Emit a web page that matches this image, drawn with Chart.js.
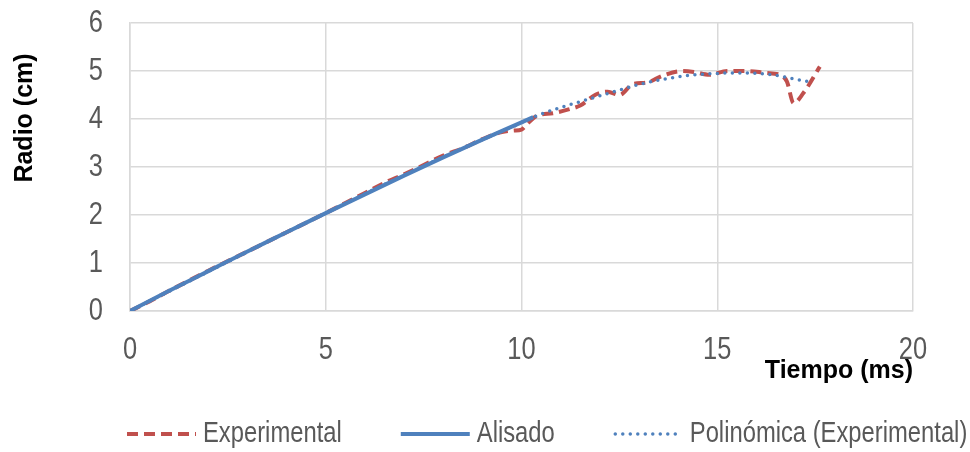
<!DOCTYPE html>
<html>
<head>
<meta charset="utf-8">
<script src="https://cdn.jsdelivr.net/npm/chart.js@4.4.1/dist/chart.umd.min.js"></script>
<style>
  html, body { margin: 0; padding: 0; background: #ffffff; }
  #wrap { width: 970px; height: 452px; position: relative; }
</style>
</head>
<body>
<div id="wrap"><canvas id="chart" width="970" height="452"></canvas></div>
<script>
// Measured radius over time (ms, cm)
const expTime   = [0, 0.5, 1, 1.5, 2, 2.5, 3, 3.5, 4, 4.5, 5, 5.5, 6, 6.5, 7, 7.5, 8, 8.5, 9, 9.5, 9.8, 10.0, 10.15, 10.4, 10.8, 11.2, 11.5, 11.9, 12.2, 12.5, 12.85, 13.2, 13.6, 14.1, 14.4, 14.8, 15.25, 15.75, 16.25, 16.6, 16.78, 16.95, 17.2, 17.62];
const expRadius = [0, 0.2, 0.42, 0.63, 0.84, 1.04, 1.24, 1.44, 1.64, 1.84, 2.04, 2.25, 2.46, 2.67, 2.85, 3.04, 3.24, 3.39, 3.58, 3.73, 3.76, 3.78, 3.9, 4.07, 4.12, 4.2, 4.28, 4.51, 4.57, 4.5, 4.73, 4.76, 4.9, 5.0, 4.98, 4.92, 5.0, 5.0, 4.96, 4.92, 4.78, 4.33, 4.54, 5.09];

// Smoothed radius
const smoothTime   = [0, 1, 2, 3, 4, 5, 6, 7, 8, 9, 10, 10.3];
const smoothRadius = [0, 0.42, 0.83, 1.24, 1.64, 2.04, 2.43, 2.82, 3.2, 3.57, 3.93, 4.04];

// Polynomial trend of the measured data
const polyTime   = [0, 1, 2, 3, 4, 5, 6, 7, 8, 9, 10, 10.4, 11, 11.7, 12.4, 13, 13.7, 14.3, 15, 15.5, 16, 16.5, 17, 17.45];
const polyRadius = [0, 0.41, 0.82, 1.23, 1.64, 2.04, 2.44, 2.83, 3.21, 3.57, 3.92, 4.07, 4.24, 4.41, 4.58, 4.72, 4.84, 4.91, 4.95, 4.96, 4.95, 4.91, 4.83, 4.76];

const seriesNames = ['Experimental', 'Alisado', 'Polinómica (Experimental)'];
const xTitle = 'Tiempo (ms)';
const yTitle = 'Radio (cm)';

const RED = '#C0504D';
const BLUE = '#4F81BD';
const SANS = "'Liberation Sans', Arial, sans-serif";
const SQUEEZE = 0.82;   // narrow face for regular-weight labels

const pairs = (xs, ys) => xs.map((x, i) => ({ x: x, y: ys[i] }));

const canvas = document.getElementById('chart');
const ctx2d = canvas.getContext('2d');

// Regular-weight labels are set in a condensed width; bold titles keep normal width.
const nativeFill = ctx2d.fillText;
ctx2d.fillText = function (text, x, y) {
  if (/bold/.test(this.font)) {
    return nativeFill.call(this, text, x, y);
  }
  this.save();
  this.translate(x, y);
  this.scale(SQUEEZE, 1);
  nativeFill.call(this, text, 0, 0);
  this.restore();
};

const legendSpec = [
  { text: seriesNames[0], color: RED,  width: 4,   dash: [11, 6],  cap: 'butt' },
  { text: seriesNames[1], color: BLUE, width: 4,   dash: [],       cap: 'butt' },
  { text: seriesNames[2], color: BLUE, width: 3.5, dash: [0, 7.5], cap: 'round' }
];

// Vertical axis title and the legend row under the chart
const extras = {
  id: 'extras',
  afterDraw(chart) {
    const ctx = chart.ctx;
    ctx.save();
    ctx.fillStyle = '#000000';
    ctx.font = 'bold 25px ' + SANS;
    ctx.textAlign = 'center';
    ctx.textBaseline = 'middle';
    ctx.translate(25, 118);
    ctx.rotate(-Math.PI / 2);
    ctx.fillText(yTitle, 0, 0);
    ctx.restore();

    ctx.save();
    ctx.font = '29px ' + SANS;
    ctx.textAlign = 'left';
    ctx.textBaseline = 'middle';
    const y = 434;
    const sample = 69, gap = 7, itemGap = 59;
    let x = 127;
    legendSpec.forEach(it => {
      ctx.beginPath();
      ctx.strokeStyle = it.color;
      ctx.lineWidth = it.width;
      ctx.lineCap = it.cap;
      ctx.setLineDash(it.dash);
      ctx.moveTo(x + (it.cap === 'round' ? 1.5 : 0), y);
      ctx.lineTo(x + sample, y);
      ctx.stroke();
      ctx.setLineDash([]);
      x += sample + gap;
      ctx.fillStyle = '#595959';
      ctx.fillText(it.text, x, y);
      x += ctx.measureText(it.text).width * SQUEEZE + itemGap;
    });
    ctx.restore();
  }
};

new Chart(canvas, {
  type: 'line',
  data: {
    datasets: [
      {
        label: seriesNames[2],
        data: pairs(polyTime, polyRadius),
        borderColor: BLUE,
        borderWidth: 3.5,
        borderDash: [0, 7.5],
        borderCapStyle: 'round',
        pointRadius: 0,
        cubicInterpolationMode: 'monotone',
        order: 0
      },
      {
        label: seriesNames[1],
        data: pairs(smoothTime, smoothRadius),
        borderColor: BLUE,
        borderWidth: 4,
        pointRadius: 0,
        cubicInterpolationMode: 'monotone',
        order: 1
      },
      {
        label: seriesNames[0],
        data: pairs(expTime, expRadius),
        borderColor: RED,
        borderWidth: 4,
        borderDash: [11, 6],
        pointRadius: 0,
        cubicInterpolationMode: 'monotone',
        order: 2
      }
    ]
  },
  options: {
    responsive: false,
    animation: false,
    devicePixelRatio: 1,
    layout: { padding: { left: 0, right: 57, top: 23, bottom: 66 } },
    plugins: {
      legend: { display: false },
      tooltip: { enabled: false }
    },
    scales: {
      x: {
        type: 'linear',
        min: 0, max: 20,
        ticks: { stepSize: 5, color: '#595959', padding: 21, font: { family: SANS, size: 31 } },
        grid: { color: '#D9D9D9', lineWidth: 1.5, drawTicks: false },
        border: { color: '#D9D9D9', width: 1.5 },
        title: { display: true, text: xTitle, align: 'end', color: '#000000', padding: { top: 0, bottom: 0 }, font: { family: SANS, size: 25, weight: 'bold' } },
        afterFit(scale) {
          scale.height = 75;
          scale.paddingLeft = 0;
          scale.paddingRight = 0;
        }
      },
      y: {
        min: 0, max: 6,
        ticks: { stepSize: 1, color: '#595959', padding: 27, font: { family: SANS, size: 31 } },
        grid: { color: '#D9D9D9', lineWidth: 1.5, drawTicks: false },
        border: { color: '#D9D9D9', width: 1.5 },
        title: { display: false, text: yTitle },
        afterFit(scale) {
          scale.width = 130;
          scale.paddingTop = 0;
          scale.paddingBottom = 0;
        }
      }
    }
  },
  plugins: [extras]
});
</script>
</body>
</html>
